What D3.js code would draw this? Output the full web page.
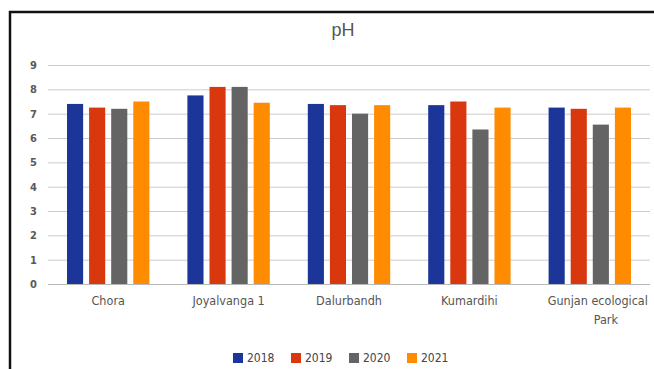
<!DOCTYPE html>
<html>
<head>
<meta charset="utf-8">
<script src="https://cdn.jsdelivr.net/npm/d3@7"></script>
<style>
  html, body { margin: 0; padding: 0; background: #fff; }
  svg { display: block; }
  text { font-family: "Liberation Sans Narrow", "Arial Narrow", "DejaVu Sans Condensed", sans-serif; }
</style>
</head>
<body>
<svg id="chart" width="654" height="369"></svg>
<script>
// Sampling sites along the x axis
const sites = ["Chora", "Joyalvanga 1", "Dalurbandh", "Kumardihi", "Gunjan ecological Park"];
// Years shown in the legend
const years = ["2018", "2019", "2020", "2021"];
// pH by year, one entry per site
const ph2018 = [7.4, 7.75, 7.4, 7.35, 7.25];
const ph2019 = [7.25, 8.1, 7.35, 7.5, 7.2];
const ph2020 = [7.2, 8.1, 7.0, 6.35, 6.55];
const ph2021 = [7.5, 7.45, 7.35, 7.25, 7.25];
const yTicks = [0, 1, 2, 3, 4, 5, 6, 7, 8, 9];

const seriesValues = [ph2018, ph2019, ph2020, ph2021];
const colors = ["#1b3599", "#d9380f", "#646464", "#ff8c00"];

const svg = d3.select("#chart");
const W = 654, H = 369;
const margin = { left: 48, right: 4, top: 65, bottom: 85 };

// frame around the chart area
svg.append("path")
  .attr("d", `M10,${H + 2} L10,12 L${W + 2},12`)
  .attr("fill", "none")
  .attr("stroke", "#111")
  .attr("stroke-width", 2.5);

const x0 = d3.scaleBand()
  .domain(sites)
  .range([margin.left, W - margin.right])
  .paddingInner(0)
  .paddingOuter(0);

const x1 = d3.scaleBand()
  .domain(years)
  .range([19, x0.bandwidth() - 19])
  .paddingInner(0.27)
  .paddingOuter(0);

const y = d3.scaleLinear().domain([0, 9]).range([284, 65]);

// horizontal gridlines
svg.append("g")
  .selectAll("line")
  .data(yTicks)
  .join("line")
  .attr("x1", margin.left)
  .attr("x2", W - margin.right)
  .attr("y1", d => y(d) + 0.5)
  .attr("y2", d => y(d) + 0.5)
  .attr("stroke", d => d === 0 ? "#b8b8b8" : "#cccccc")
  .attr("stroke-width", 1);

// y axis tick labels
const yAxis = d3.axisLeft(y).tickValues(yTicks).tickSize(0).tickPadding(0);
const gy = svg.append("g").attr("transform", "translate(37,0)").call(yAxis);
gy.select(".domain").remove();
gy.selectAll("text")
  .attr("font-size", 11)
  .attr("font-weight", "bold")
  .attr("fill", "#595959")
  .attr("dy", "0.32em");

// bars
const groups = svg.append("g")
  .selectAll("g")
  .data(sites.map((s, i) => ({ site: s, vals: years.map((yr, k) => ({ year: yr, v: seriesValues[k][i], c: colors[k] })) })))
  .join("g")
  .attr("transform", d => `translate(${x0(d.site)},0)`);

groups.selectAll("rect")
  .data(d => d.vals)
  .join("rect")
  .attr("x", d => x1(d.year))
  .attr("width", x1.bandwidth())
  .attr("y", d => y(d.v))
  .attr("height", d => y(0) - y(d.v))
  .attr("fill", d => d.c);

// x axis category labels, wrapped for long names
const xAxis = d3.axisBottom(x0).tickSize(0).tickPadding(0);
const gx = svg.append("g").attr("transform", "translate(0,296)").call(xAxis);
gx.select(".domain").remove();
gx.selectAll("text").each(function (d) {
  const t = d3.select(this);
  t.text(null)
    .attr("y", 0)
    .attr("dy", null)
    .attr("font-size", 12.5)
    .attr("fill", "#555");
  const wrapped = d === "Gunjan ecological Park";
  const lines = wrapped ? ["Gunjan ecological", "Park"] : [d];
  lines.forEach((ln, i) => {
    t.append("tspan")
      .attr("x", wrapped ? (i === 0 ? 8 : 16) : 0)
      .attr("dy", i === 0 ? "0.71em" : "1.5em")
      .text(ln);
  });
});

// title
svg.append("text")
  .attr("x", 343)
  .attr("y", 36)
  .attr("text-anchor", "middle")
  .attr("font-size", 18)
  .attr("fill", "#555")
  .style("font-family", "'Liberation Sans', sans-serif")
  .text("pH");

// legend
const legend = svg.append("g").attr("transform", "translate(233,358)");
const item = legend.selectAll("g")
  .data(years)
  .join("g")
  .attr("transform", (d, i) => `translate(${i * 58},0)`);
item.append("rect")
  .attr("x", 0).attr("y", -5)
  .attr("width", 10).attr("height", 10)
  .attr("fill", (d, i) => colors[i]);
item.append("text")
  .attr("x", 14).attr("y", 0)
  .attr("dy", "0.35em")
  .attr("font-size", 12)
  .attr("fill", "#444")
  .text(d => d);
</script>
</body>
</html>
